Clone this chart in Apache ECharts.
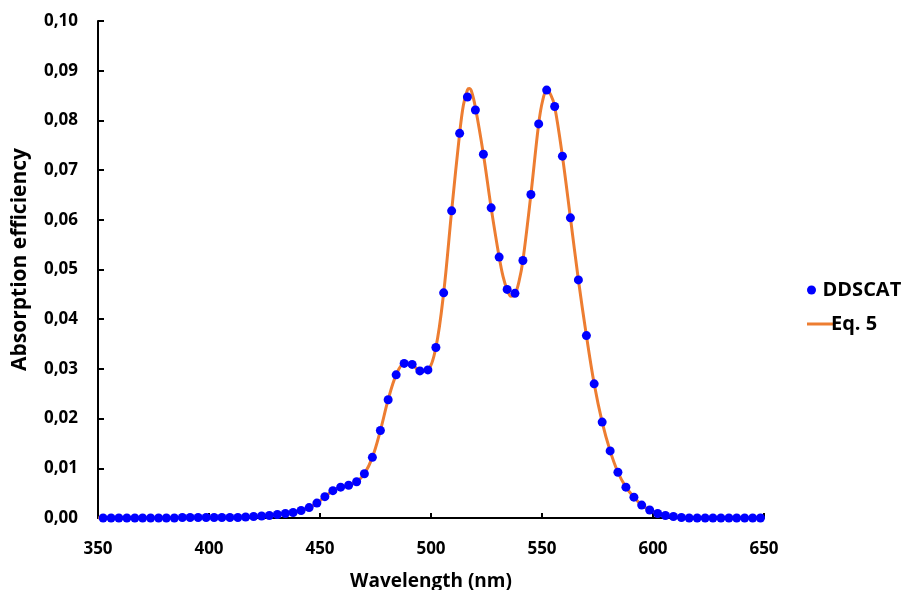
<!DOCTYPE html>
<html>
<head>
<meta charset="utf-8">
<script src="https://cdn.jsdelivr.net/npm/echarts@6/dist/echarts.min.js"></script>
<style>
  html, body { margin: 0; padding: 0; background: #fff; }
  #chart { width: 907px; height: 590px; }
</style>
</head>
<body>
<div id="chart"></div>
<script>
// DDSCAT absorption efficiency samples (wavelength in nm)
const ddscatWavelength = [
  352.3, 355.9, 359.4, 363.0, 366.6, 370.1, 373.7, 377.3, 380.8, 384.4,
  388.0, 391.5, 395.1, 398.7, 402.3, 405.8, 409.4, 413.0, 416.5, 420.1,
  423.7, 427.2, 430.8, 434.4, 437.9, 441.5, 445.1, 448.6, 452.2, 455.8,
  459.3, 462.9, 466.5, 470.0, 473.6, 477.2, 480.7, 484.3, 487.9, 491.5,
  495.0, 498.6, 502.2, 505.7, 509.3, 512.9, 516.4, 520.0, 523.6, 527.1,
  530.7, 534.3, 537.8, 541.4, 545.0, 548.5, 552.1, 555.7, 559.2, 562.8,
  566.4, 570.0, 573.5, 577.1, 580.7, 584.2, 587.8, 591.4, 594.9, 598.5,
  602.1, 605.6, 609.2, 612.8, 616.3, 619.9, 623.5, 627.0, 630.6, 634.2,
  637.7, 641.3, 644.9, 648.4
];
const ddscatValue = [
  0.0000, 0.0000, 0.0000, 0.0000, 0.0000, 0.0000, 0.0000, 0.0000, 0.0000, 0.0000,
  0.0001, 0.0001, 0.0001, 0.0001, 0.0001, 0.0001, 0.0001, 0.0001, 0.0002, 0.0003,
  0.0004, 0.0005, 0.0007, 0.0009, 0.0011, 0.0015, 0.0021, 0.0030, 0.0043, 0.0055,
  0.0062, 0.0066, 0.0073, 0.0089, 0.0122, 0.0176, 0.0238, 0.0288, 0.0311, 0.0309,
  0.0296, 0.0298, 0.0343, 0.0453, 0.0618, 0.0774, 0.0847, 0.0821, 0.0732, 0.0624,
  0.0525, 0.0460, 0.0452, 0.0518, 0.0651, 0.0793, 0.0861, 0.0828, 0.0728, 0.0604,
  0.0479, 0.0367, 0.0270, 0.0193, 0.0135, 0.0092, 0.0062, 0.0042, 0.0026, 0.0016,
  0.0009, 0.0005, 0.0003, 0.0001, 0.0000, 0.0000, 0.0000, 0.0000, 0.0000, 0.0000,
  0.0000, 0.0000, 0.0000, 0.0000
];

// Eq. 5 model curve
const eq5Wavelength = [
  350.0, 352.3, 359.4, 366.6, 373.7, 380.8, 388.0, 395.1, 402.3, 409.4,
  416.5, 420.1, 423.7, 427.2, 430.8, 434.4, 437.9, 441.5, 445.1, 448.6,
  452.2, 455.8, 459.3, 462.9, 466.5, 470.0, 473.6, 477.2, 480.7, 484.3,
  487.9, 491.5, 495.0, 498.6, 502.2, 505.7, 509.3, 512.9, 514.6, 516.4,
  517.2, 518.2, 520.0, 523.6, 527.1, 530.7, 532.5, 534.3, 536.0, 537.8,
  539.6, 541.4, 545.0, 548.5, 550.3, 552.1, 553.9, 555.7, 559.2, 562.8,
  566.4, 570.0, 573.5, 577.1, 580.7, 584.2, 587.8, 591.4, 594.9, 598.5,
  602.1, 605.6, 609.2, 612.8, 616.3, 623.5, 630.6, 637.7, 644.9, 650.0
];
const eq5Value = [
  0.0000, 0.0000, 0.0000, 0.0000, 0.0000, 0.0000, 0.0001, 0.0001, 0.0001, 0.0001,
  0.0002, 0.0003, 0.0004, 0.0005, 0.0007, 0.0009, 0.0011, 0.0015, 0.0021, 0.0030,
  0.0043, 0.0055, 0.0062, 0.0066, 0.0073, 0.0089, 0.0122, 0.0176, 0.0238, 0.0288,
  0.0311, 0.0309, 0.0296, 0.0298, 0.0343, 0.0453, 0.0618, 0.0774, 0.0831, 0.0861,
  0.0864, 0.0859, 0.0826, 0.0732, 0.0624, 0.0525, 0.0485, 0.0459, 0.0446, 0.0450,
  0.0475, 0.0518, 0.0651, 0.0793, 0.0840, 0.0860, 0.0852, 0.0828, 0.0728, 0.0604,
  0.0479, 0.0367, 0.0270, 0.0193, 0.0135, 0.0092, 0.0062, 0.0042, 0.0026, 0.0016,
  0.0009, 0.0005, 0.0003, 0.0001, 0.0000, 0.0000, 0.0000, 0.0000, 0.0000, 0.0000
];

// Axis ticks
const xTicks = { min: 350, max: 650, step: 50 };
const yTicks = { min: 0, max: 0.10, step: 0.01 };

const FONT = '"Open Sans", Lato, sans-serif';
const pairs = (xs, ys) => xs.map((x, i) => [x, ys[i]]);
const txt = size => ({ fontFamily: FONT, fontWeight: 700, fontSize: size, color: '#000' });

const chart = echarts.init(document.getElementById('chart'), null, { renderer: 'canvas' });
chart.setOption({
  animation: false,
  backgroundColor: '#fff',
  textStyle: { fontFamily: FONT, fontWeight: 700, color: '#000' },
  grid: {
    left: 98, right: 143, top: 21, bottom: 72,
    containLabel: false,
    outerBoundsMode: 'none'
  },
  xAxis: {
    type: 'value',
    min: xTicks.min, max: xTicks.max, interval: xTicks.step,
    name: 'Wavelength (nm)',
    nameLocation: 'middle',
    nameGap: 54,
    nameTextStyle: txt(19),
    axisLine: { lineStyle: { color: '#000', width: 2 } },
    axisTick: { show: true, inside: true, length: 5, lineStyle: { color: '#000', width: 2 } },
    axisLabel: Object.assign({ margin: 23 }, txt(17)),
    splitLine: { show: false }
  },
  yAxis: {
    type: 'value',
    min: yTicks.min, max: yTicks.max, interval: yTicks.step,
    name: 'Absorption efficiency',
    nameLocation: 'middle',
    nameGap: 67,
    nameRotate: 90,
    nameTextStyle: Object.assign({ padding: [0, 0, 0, 20] }, txt(21)),
    axisLine: { show: true, lineStyle: { color: '#000', width: 2 } },
    axisTick: { show: true, inside: true, length: 6, lineStyle: { color: '#000', width: 2 } },
    axisLabel: Object.assign({
      margin: 20,
      formatter: v => v.toFixed(2).replace('.', ',')
    }, txt(17)),
    splitLine: { show: false }
  },
  legend: [
    {
      orient: 'vertical', left: 802, top: 275,
      itemWidth: 26, itemHeight: 9,
      data: [{ name: 'DDSCAT', icon: 'circle' }],
      textStyle: Object.assign({ padding: [0, 0, 0, -7] }, txt(20))
    },
    {
      orient: 'vertical', left: 802, top: 309,
      itemWidth: 26, itemHeight: 3,
      data: [{ name: 'Eq. 5', icon: 'rect' }],
      textStyle: Object.assign({ padding: [0, 0, 0, -7] }, txt(20))
    }
  ],
  series: [
    {
      name: 'Eq. 5',
      type: 'line',
      data: pairs(eq5Wavelength, eq5Value),
      smooth: 0.35,
      symbol: 'none',
      lineStyle: { color: '#ED7D31', width: 3 },
      itemStyle: { color: '#ED7D31' },
      z: 2
    },
    {
      name: 'DDSCAT',
      type: 'scatter',
      data: pairs(ddscatWavelength, ddscatValue),
      symbol: 'circle',
      symbolSize: 9,
      itemStyle: { color: '#0000FF', opacity: 1 },
      z: 3
    }
  ]
});
</script>
</body>
</html>
